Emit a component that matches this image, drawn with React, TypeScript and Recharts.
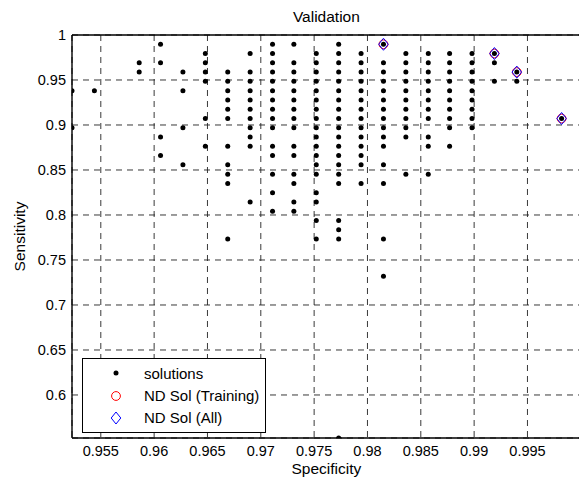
import { ScatterChart, Scatter, XAxis, YAxis, CartesianGrid, Legend, ReferenceLine } from 'recharts';

// specificity of each column of solutions (x)
const specificity = [
  0.9523, 0.9544, 0.9586, 0.9606, 0.9627, 0.9648, 0.9669, 0.969, 0.9711, 0.9731, 0.9752,
  0.9773, 0.9794, 0.9815, 0.9836, 0.9857, 0.9877, 0.9898, 0.9919, 0.994, 0.9982,
];

// sensitivity values found in each column (same order as specificity)
const sensitivityByColumn = [
  [0.9381, 0.8969],
  [0.9381],
  [0.9691, 0.9588],
  [0.9897, 0.9691, 0.8866, 0.866],
  [0.9588, 0.9381, 0.8969, 0.8557],
  [0.9794, 0.9691, 0.9588, 0.9485, 0.9072, 0.8763],
  [0.9588, 0.9485, 0.9381, 0.9278, 0.9175, 0.9072, 0.8763, 0.8557, 0.8454, 0.8351, 0.7732],
  [0.9794, 0.9588, 0.9485, 0.9381, 0.9278, 0.9175, 0.9072, 0.8969, 0.8866, 0.8763, 0.8144],
  [0.9897, 0.9794, 0.9691, 0.9588, 0.9485, 0.9381, 0.9278, 0.9175, 0.9072, 0.8969, 0.8763, 0.866, 0.8454, 0.8247, 0.8041],
  [0.9897, 0.9691, 0.9588, 0.9485, 0.9381, 0.9278, 0.9175, 0.9072, 0.8969, 0.8763, 0.866, 0.8454, 0.8351, 0.8144, 0.8041],
  [0.9794, 0.9691, 0.9588, 0.9485, 0.9381, 0.9278, 0.9175, 0.9072, 0.8969, 0.8866, 0.8763, 0.866, 0.8557, 0.8454, 0.8247, 0.8144, 0.7938, 0.7732],
  [0.9897, 0.9794, 0.9691, 0.9588, 0.9485, 0.9381, 0.9278, 0.9175, 0.9072, 0.8969, 0.8866, 0.8763, 0.866, 0.8557, 0.8454, 0.8351, 0.7938, 0.7835, 0.7732, 0.5522],
  [0.9794, 0.9691, 0.9588, 0.9485, 0.9381, 0.9278, 0.9175, 0.9072, 0.8969, 0.8866, 0.8763, 0.866, 0.8557, 0.8351],
  [0.9897, 0.9691, 0.9588, 0.9485, 0.9381, 0.9278, 0.9175, 0.9072, 0.8969, 0.8866, 0.8763, 0.8557, 0.8351, 0.7732, 0.732],
  [0.9794, 0.9691, 0.9588, 0.9485, 0.9381, 0.9278, 0.9175, 0.9072, 0.8969, 0.8866, 0.8454],
  [0.9794, 0.9691, 0.9588, 0.9485, 0.9381, 0.9278, 0.9175, 0.9072, 0.8866, 0.8763, 0.8454],
  [0.9794, 0.9691, 0.9588, 0.9485, 0.9381, 0.9278, 0.9175, 0.9072, 0.8969, 0.8763],
  [0.9794, 0.9691, 0.9588, 0.9485, 0.9381, 0.9278, 0.9175, 0.9072, 0.8969],
  [0.9794, 0.9691, 0.9485],
  [0.9588, 0.9485],
  [0.9072],
];

// non-dominated solutions
const ndTrainingSpec = [0.9815, 0.9919, 0.994, 0.9982];
const ndTrainingSens = [0.9897, 0.9794, 0.9588, 0.9072];
const ndAllSpec = [0.9815, 0.9919, 0.994, 0.9982];
const ndAllSens = [0.9897, 0.9794, 0.9588, 0.9072];

const xTicks = [0.955, 0.96, 0.965, 0.97, 0.975, 0.98, 0.985, 0.99, 0.995];
const yTicks = [0.6, 0.65, 0.7, 0.75, 0.8, 0.85, 0.9, 0.95, 1];

const solutions = specificity.flatMap((x, i) => sensitivityByColumn[i].map((y) => ({ x, y })));
const ndTraining = ndTrainingSpec.map((x, i) => ({ x, y: ndTrainingSens[i] }));
const ndAll = ndAllSpec.map((x, i) => ({ x, y: ndAllSens[i] }));

const FONT = '"Liberation Sans", Arial, Helvetica, sans-serif';

const Dot = (p: any) => <circle cx={p.cx} cy={p.cy} r={2.5} fill="#000" />;
const RedCircle = (p: any) => <circle cx={p.cx} cy={p.cy} r={4.4} fill="none" stroke="#ff0000" strokeWidth={1} />;
const BlueDiamond = (p: any) => (
  <path
    d={`M${p.cx},${p.cy - 6} L${p.cx + 4.8},${p.cy} L${p.cx},${p.cy + 6} L${p.cx - 4.8},${p.cy} Z`}
    fill="none"
    stroke="#0000ff"
    strokeWidth={1}
  />
);

function LegendBox() {
  const rows = [
    { label: 'solutions', icon: <circle cx={10} cy={10} r={2.5} fill="#000" /> },
    { label: 'ND Sol (Training)', icon: <circle cx={10} cy={10} r={4.4} fill="none" stroke="#ff0000" /> },
    { label: 'ND Sol (All)', icon: <path d="M10,4 L14.8,10 L10,16 L5.2,10 Z" fill="none" stroke="#0000ff" /> },
  ];
  return (
    <div
      style={{
        width: 182,
        height: 70,
        border: '1px solid #000',
        background: '#fff',
        fontFamily: FONT,
        fontSize: 15,
        color: '#000',
        paddingTop: 3,
        boxSizing: 'content-box',
      }}
    >
      {rows.map((r) => (
        <div key={r.label} style={{ display: 'flex', alignItems: 'center', height: 22.4 }}>
          <svg width={20} height={20} style={{ marginLeft: 23, marginRight: 18 }}>
            {r.icon}
          </svg>
          <span>{r.label}</span>
        </div>
      ))}
    </div>
  );
}

export default function App() {
  return (
    <div
      style={{
        position: 'fixed',
        left: 0,
        top: 0,
        width: 579,
        height: 480,
        overflow: 'hidden',
        background: '#fff',
        fontFamily: FONT,
      }}
    >
      <ScatterChart width={590} height={480} margin={{ top: 35, right: 9.2, bottom: 0, left: 0 }}>
        <CartesianGrid stroke="#222" strokeDasharray="6 5" strokeWidth={0.9} />
        <XAxis
          type="number"
          dataKey="x"
          domain={[0.9523, 1]}
          allowDataOverflow
          ticks={xTicks}
          height={42}
          tickLine={false}
          tickSize={0}
          tickMargin={8}
          tick={{ fill: '#000', fontSize: 14.5 }}
          axisLine={{ stroke: '#000', strokeWidth: 1.4 }}
          label={{ value: 'Specificity', position: 'insideBottom', offset: 6, fill: '#000', fontSize: 15.5 }}
        />
        <YAxis
          type="number"
          dataKey="y"
          domain={[0.5522, 1]}
          allowDataOverflow
          ticks={yTicks}
          width={72}
          tickLine={false}
          tickSize={0}
          tickMargin={6}
          tick={{ fill: '#000', fontSize: 14.5 }}
          axisLine={{ stroke: '#000', strokeWidth: 1.4 }}
          label={{
            value: 'Sensitivity',
            angle: -90,
            position: 'insideLeft',
            offset: 19,
            fill: '#000',
            fontSize: 15.5,
            style: { textAnchor: 'middle' },
          }}
        />
        <ReferenceLine
          y={1}
          stroke="#000"
          strokeWidth={1.4}
          label={{ value: 'Validation', position: 'top', offset: 13, fill: '#000', fontSize: 15.5 }}
        />
        <Legend
          layout="vertical"
          align="center"
          verticalAlign="middle"
          content={() => <LegendBox />}
          wrapperStyle={{ position: 'absolute', left: 82, top: 358, width: 184, height: 74 }}
        />
        <Scatter name="solutions" data={solutions} shape={Dot} isAnimationActive={false} />
        <Scatter name="ND Sol (Training)" data={ndTraining} shape={RedCircle} isAnimationActive={false} />
        <Scatter name="ND Sol (All)" data={ndAll} shape={BlueDiamond} isAnimationActive={false} />
      </ScatterChart>
    </div>
  );
}
